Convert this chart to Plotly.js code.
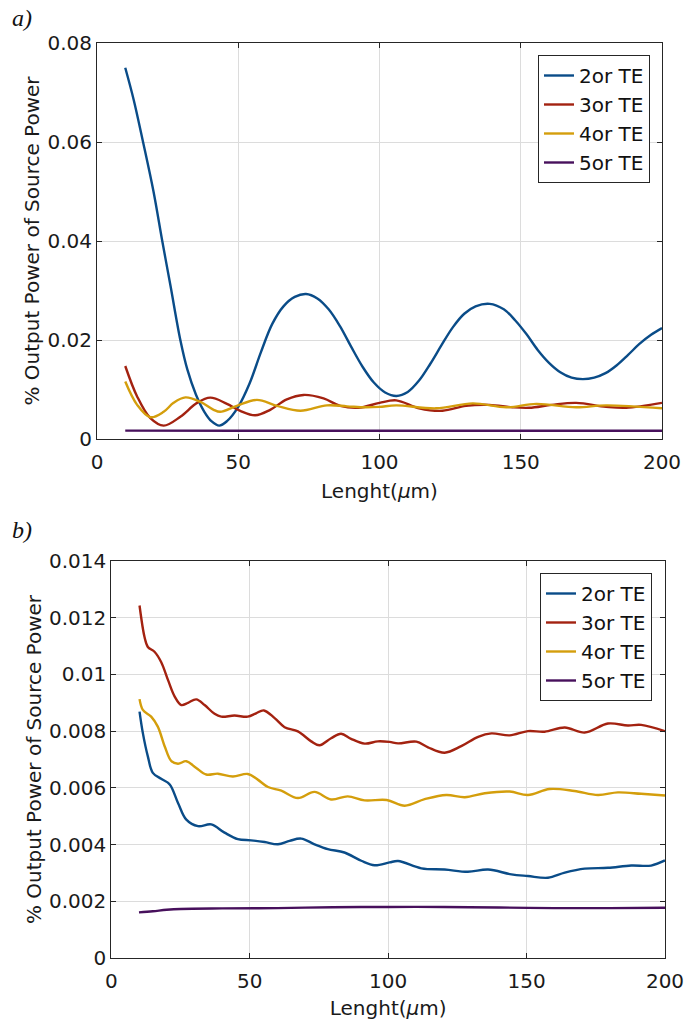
<!DOCTYPE html>
<html>
<head>
<meta charset="utf-8">
<script src="https://cdn.plot.ly/plotly-3.0.1.min.js"></script>
<style>html,body{margin:0;padding:0;background:#fff;}#chart{width:700px;height:1028px;}</style>
</head>
<body>
<div id="chart"></div>
<script>
// ---------- Panel a) data ----------
var seriesNames = ["2or TE", "3or TE", "4or TE", "5or TE"];

var a_te2_x = [10, 13, 16.3, 20, 23.1, 26, 29.5, 32, 35, 38, 40.5, 43.3, 46, 50, 54, 58, 62, 66, 70, 74, 78, 82, 86, 90, 94, 98, 102, 106, 110, 114, 118, 122, 126, 130, 134, 139, 144, 148, 152, 156, 160, 164, 168, 172, 176, 180, 184, 188, 192, 196, 200];
var a_te2_y = [0.0750, 0.0685, 0.0600, 0.0500, 0.0400, 0.0310, 0.0200, 0.0140, 0.0090, 0.0055, 0.0036, 0.0027, 0.0036, 0.0065, 0.0112, 0.0175, 0.0232, 0.0268, 0.0287, 0.0293, 0.0284, 0.0262, 0.0228, 0.0186, 0.0146, 0.0114, 0.0094, 0.0087, 0.0095, 0.0118, 0.0152, 0.0190, 0.0226, 0.0253, 0.0268, 0.0273, 0.0262, 0.0240, 0.0212, 0.0180, 0.0154, 0.0135, 0.0124, 0.0121, 0.0124, 0.0133, 0.0149, 0.0170, 0.0192, 0.0210, 0.0224];

var a_te3_x = [10, 14.2, 18.9, 23.6, 29.5, 35.4, 40.1, 46, 50.7, 56, 61.3, 67.2, 73.1, 80.2, 86.1, 92.6, 100, 105.9, 114, 122.3, 130.6, 138.9, 147.1, 153, 161, 169.6, 180.2, 187.3, 200];
var a_te3_y = [0.01475, 0.0086, 0.0042, 0.0027, 0.0045, 0.0073, 0.00835, 0.0071, 0.0057, 0.0048, 0.0059, 0.0080, 0.0089, 0.0082, 0.0067, 0.0063, 0.0073, 0.0078, 0.0062, 0.0057, 0.0067, 0.0069, 0.0064, 0.0063, 0.0069, 0.0073, 0.0065, 0.0063, 0.0073];

var a_te4_x = [10, 14.2, 18.9, 23.6, 27.1, 31.3, 36.6, 41.3, 43.6, 49.5, 56.6, 63.7, 72, 81.4, 88.5, 95, 100, 105.9, 120, 133, 144.9, 155.5, 169.6, 180.2, 200];
var a_te4_y = [0.0116, 0.0069, 0.0044, 0.0055, 0.0073, 0.0084, 0.0075, 0.0059, 0.0055, 0.0067, 0.0079, 0.0067, 0.0057, 0.0068, 0.0066, 0.0064, 0.0065, 0.0068, 0.0062, 0.0072, 0.0064, 0.0071, 0.0064, 0.0068, 0.0062];

var a_te5_x = [10, 50, 100, 150, 200];
var a_te5_y = [0.0017, 0.00168, 0.00168, 0.00168, 0.00168];

// ---------- Panel b) data ----------
var b_te2_x = [10.2, 11.4, 13.2, 15, 18, 21.1, 24.1, 27.1, 31.3, 36.1, 40.9, 45.7, 50.5, 55.4, 60.2, 64.4, 68.6, 73.4, 78.2, 84.2, 90.3, 95.1, 100.5, 103.6, 112, 120.4, 128.8, 136.1, 144.5, 150.5, 157.7, 163.8, 171, 179.4, 187.8, 195, 200];
var b_te2_y = [0.00869, 0.00793, 0.00711, 0.00653, 0.00632, 0.00612, 0.00547, 0.00488, 0.00465, 0.00471, 0.00442, 0.00419, 0.00415, 0.00409, 0.00401, 0.00413, 0.00421, 0.00401, 0.00384, 0.00372, 0.00343, 0.00327, 0.00337, 0.00342, 0.00316, 0.00312, 0.00304, 0.00312, 0.00295, 0.00289, 0.00283, 0.00301, 0.00315, 0.00318, 0.00326, 0.00326, 0.00344];

var b_te3_x = [10.2, 12, 13.2, 15.6, 18, 20.5, 22.9, 25.3, 27.7, 30.7, 33.7, 37.3, 39.7, 44.5, 49.3, 52.3, 55.1, 59, 62.6, 67.4, 72.2, 75.2, 79.4, 83, 86.6, 91.5, 96.3, 100.5, 103.6, 110.2, 114.4, 120.4, 126.4, 132.5, 137.3, 143.9, 150.5, 156.5, 163.8, 171, 179.4, 186.6, 191.4, 200];
var b_te3_y = [0.01243, 0.01132, 0.01097, 0.0108, 0.01044, 0.0098, 0.00922, 0.00892, 0.0090, 0.00912, 0.00892, 0.00861, 0.00851, 0.00855, 0.00851, 0.00863, 0.00873, 0.00846, 0.00814, 0.00799, 0.00764, 0.0075, 0.00775, 0.00791, 0.00773, 0.00756, 0.00764, 0.00762, 0.00757, 0.00763, 0.00743, 0.00724, 0.00747, 0.0078, 0.00792, 0.00785, 0.0080, 0.00798, 0.00813, 0.00795, 0.00827, 0.0082, 0.00822, 0.0080];

var b_te4_x = [10.2, 11.4, 14.4, 16.8, 19.3, 21.7, 24.1, 27.1, 30.7, 34.3, 38.5, 43.9, 49.3, 52.9, 56.6, 61.4, 67.4, 73.4, 79.4, 85.4, 91.5, 99.5, 106, 113.2, 121, 127.7, 134.9, 143.9, 150.5, 158.3, 167.3, 175.8, 183, 191.4, 200];
var b_te4_y = [0.00913, 0.00875, 0.00851, 0.00816, 0.00746, 0.00694, 0.00685, 0.00694, 0.0067, 0.00647, 0.0065, 0.0064, 0.00649, 0.00629, 0.00603, 0.0059, 0.00564, 0.00586, 0.00559, 0.0057, 0.00556, 0.00557, 0.00537, 0.0056, 0.00575, 0.00567, 0.00581, 0.00587, 0.00575, 0.00596, 0.00589, 0.00575, 0.00584, 0.00579, 0.00573];

var b_te5_x = [10, 15, 20, 25, 40, 60, 80, 100, 120, 140, 160, 180, 200];
var b_te5_y = [0.00161, 0.00165, 0.0017, 0.00173, 0.00175, 0.00176, 0.00179, 0.0018, 0.0018, 0.00178, 0.00176, 0.00176, 0.00177];

// ---------- Axis ticks ----------
var xTicks = [0, 50, 100, 150, 200];
var xTickText = ["0", "50", "100", "150", "200"];
var aYTicks = [0, 0.02, 0.04, 0.06, 0.08];
var aYTickText = ["0", "0.02", "0.04", "0.06", "0.08"];
var bYTicks = [0, 0.002, 0.004, 0.006, 0.008, 0.01, 0.012, 0.014];
var bYTickText = ["0", "0.002", "0.004", "0.006", "0.008", "0.01", "0.012", "0.014"];

var colors = ["#0a4c88", "#a32210", "#d49e0c", "#47105c"];
var FONT = "DejaVu Sans, Verdana, sans-serif";

function mk(x, y, i, xa, ya, lg) {
  return {x: x, y: y, type: "scatter", mode: "lines", name: seriesNames[i],
    line: {color: colors[i], width: 2.4, shape: "spline", smoothing: 1},
    xaxis: xa, yaxis: ya, legend: lg, hoverinfo: "skip"};
}

var data = [
  mk(a_te2_x, a_te2_y, 0, "x", "y", "legend"),
  mk(a_te3_x, a_te3_y, 1, "x", "y", "legend"),
  mk(a_te4_x, a_te4_y, 2, "x", "y", "legend"),
  mk(a_te5_x, a_te5_y, 3, "x", "y", "legend"),
  mk(b_te2_x, b_te2_y, 0, "x2", "y2", "legend2"),
  mk(b_te3_x, b_te3_y, 1, "x2", "y2", "legend2"),
  mk(b_te4_x, b_te4_y, 2, "x2", "y2", "legend2"),
  mk(b_te5_x, b_te5_y, 3, "x2", "y2", "legend2")
];

var W = 700, H = 1028;
var TXT = "#1a1a1a";
function axBase() {
  return {showline: true, linecolor: "#262626", linewidth: 1, mirror: "ticks",
    ticks: "inside", ticklen: 5, tickcolor: "#262626", tickwidth: 1,
    showgrid: true, gridcolor: "#dcdcdc", gridwidth: 1, zeroline: false,
    tickfont: {family: FONT, size: 20, color: TXT}, automargin: false,
    fixedrange: true};
}
var xa = Object.assign(axBase(), {domain: [97/W, 662/W], range: [0, 200], tickmode: "array", tickvals: xTicks, ticktext: xTickText, anchor: "y", ticklabelstandoff: 5,
  title: {text: "Lenght(<i>\u03bc</i>m)", font: {family: FONT, size: 20, color: TXT}, standoff: 10}});
var ya = Object.assign(axBase(), {domain: [1 - 439/H, 1 - 43/H], range: [0, 0.08], tickmode: "array", tickvals: aYTicks, ticktext: aYTickText, anchor: "x",
  title: {text: "% Output Power of Source Power", font: {family: FONT, size: 20, color: TXT}, standoff: 2}});
var xb = Object.assign(axBase(), {domain: [111.3/W, 665/W], range: [0, 200], tickmode: "array", tickvals: xTicks, ticktext: xTickText, anchor: "y2", ticklabelstandoff: 5,
  title: {text: "Lenght(<i>\u03bc</i>m)", font: {family: FONT, size: 20, color: TXT}, standoff: 8}});
var yb = Object.assign(axBase(), {domain: [1 - 958/H, 1 - 561/H], range: [0, 0.014], tickmode: "array", tickvals: bYTicks, ticktext: bYTickText, anchor: "x2",
  title: {text: "% Output Power of Source Power", font: {family: FONT, size: 20, color: TXT}, standoff: 2}});

var legBase = {bgcolor: "#ffffff", bordercolor: "#262626", borderwidth: 1,
  font: {family: FONT, size: 20, color: "#111"}, xanchor: "right", yanchor: "top",
  tracegroupgap: 0, itemwidth: 30, traceorder: "normal"};

var layout = {
  width: W, height: H, margin: {l: 0, r: 0, t: 0, b: 0},
  paper_bgcolor: "#ffffff", plot_bgcolor: "#ffffff",
  showlegend: true,
  xaxis: xa, yaxis: ya, xaxis2: xb, yaxis2: yb,
  legend: Object.assign({}, legBase, {x: 650/W, y: 1 - 55/H}),
  legend2: Object.assign({}, legBase, {x: 652/W, y: 1 - 573/H}),
  annotations: [
    {text: "<i>a)</i>", xref: "paper", yref: "paper", x: 10/W, y: 1 - 18/H, xanchor: "left", yanchor: "middle", showarrow: false,
     font: {family: "Liberation Serif, Times New Roman, serif", size: 24, color: "#111"}},
    {text: "<i>b)</i>", xref: "paper", yref: "paper", x: 10/W, y: 1 - 530/H, xanchor: "left", yanchor: "middle", showarrow: false,
     font: {family: "Liberation Serif, Times New Roman, serif", size: 24, color: "#111"}}
  ]
};

Plotly.newPlot("chart", data, layout, {displayModeBar: false, staticPlot: true});
</script>
</body>
</html>
